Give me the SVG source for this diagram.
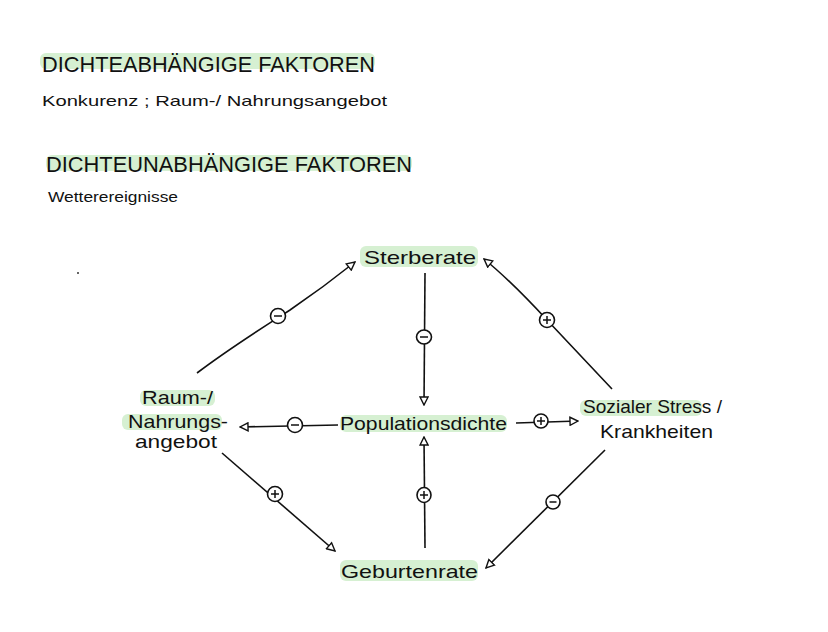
<svg xmlns="http://www.w3.org/2000/svg" width="828" height="632" viewBox="0 0 828 632">
<style>
.t{font-family:"Liberation Sans","DejaVu Sans",sans-serif;fill:#111}
.h{font-size:22px}
.s{font-size:15px}
.n{font-size:19px}
.hl{fill:#d6f0d2}
.c{fill:none;stroke:#111;stroke-width:1.6}
.sg{fill:#fff;stroke:#111;stroke-width:1.6}
.sy{stroke:#111;stroke-width:1.5}
</style>
<defs>
<marker id="a" viewBox="0 0 10 10" refX="9" refY="5" markerWidth="10" markerHeight="10" markerUnits="userSpaceOnUse" orient="auto">
<path d="M1,1 L9,5 L1,9 Z" fill="#fff" stroke="#111" stroke-width="1.4"/>
</marker>
</defs>
<rect width="828" height="632" fill="#fff"/>
<g id="headings">
<rect class="hl" x="40" y="53" width="335" height="16" rx="6"/>
<text class="t h" x="42" y="72" textLength="333" lengthAdjust="spacingAndGlyphs">DICHTEABHÄNGIGE FAKTOREN</text>
<text class="t s" x="42" y="106" textLength="345" lengthAdjust="spacingAndGlyphs">Konkurenz ; Raum-/ Nahrungsangebot</text>
<rect class="hl" x="46" y="155" width="366" height="16" rx="6"/>
<text class="t h" x="46" y="172" textLength="366" lengthAdjust="spacingAndGlyphs">DICHTEUNABHÄNGIGE FAKTOREN</text>
<text class="t s" x="48" y="202" textLength="130" lengthAdjust="spacingAndGlyphs">Wetterereignisse</text>
<circle cx="78" cy="273" r="1" fill="#333"/>
</g>
<g id="connectors">
<path class="c" d="M197,373 C230,348 265,326 290,310 C312,295 335,278 355,262" marker-end="url(#a)"/>
<circle class="sg" cx="278" cy="316" r="7.5"/><line class="sy" x1="274" y1="316" x2="282" y2="316"/>
<path class="c" d="M425,273 L424,405" marker-end="url(#a)"/>
<ellipse class="sg" cx="424" cy="337" rx="7.5" ry="7"/><line class="sy" x1="420" y1="337" x2="428" y2="337"/>
<path class="c" d="M612,389 L547,320 Q510,280 484,259" marker-end="url(#a)"/>
<circle class="sg" cx="547" cy="320" r="7.5"/><line class="sy" x1="543" y1="320" x2="551" y2="320"/><line class="sy" x1="547" y1="316" x2="547" y2="324"/>
<path class="c" d="M338,425 L240,427" marker-end="url(#a)"/>
<circle class="sg" cx="295" cy="425" r="7.5"/><line class="sy" x1="291" y1="425" x2="299" y2="425"/>
<path class="c" d="M516,423 L578,421" marker-end="url(#a)"/>
<circle class="sg" cx="541" cy="421" r="7"/><line class="sy" x1="537" y1="421" x2="545" y2="421"/><line class="sy" x1="541" y1="417" x2="541" y2="425"/>
<path class="c" d="M222,453 L335,551" marker-end="url(#a)"/>
<circle class="sg" cx="275" cy="494" r="7.5"/><line class="sy" x1="271" y1="494" x2="279" y2="494"/><line class="sy" x1="275" y1="490" x2="275" y2="498"/>
<path class="c" d="M425,548 L424,437" marker-end="url(#a)"/>
<ellipse class="sg" cx="424" cy="495" rx="7" ry="7.5"/><line class="sy" x1="420" y1="495" x2="428" y2="495"/><line class="sy" x1="424" y1="491" x2="424" y2="499"/>
<path class="c" d="M605,450 L486,568" marker-end="url(#a)"/>
<circle class="sg" cx="553" cy="502" r="7" stroke-width="1.2"/><line class="sy" x1="549.5" y1="502" x2="556.5" y2="502" stroke-width="1.2"/>
</g>
<g id="sterberate">
<rect class="hl" x="360" y="246" width="118" height="21" rx="6"/>
<text class="t n" x="364" y="264" textLength="112" lengthAdjust="spacingAndGlyphs">Sterberate</text>
</g>
<g id="raum">
<rect class="hl" x="140" y="390" width="75" height="16" rx="6"/>
<rect class="hl" x="122" y="414" width="100" height="16" rx="6"/>
<text class="t n" x="142" y="404" textLength="71" lengthAdjust="spacingAndGlyphs">Raum-/</text>
<text class="t n" x="128" y="428" textLength="100" lengthAdjust="spacingAndGlyphs">Nahrungs-</text>
<text class="t n" x="135" y="448" textLength="82" lengthAdjust="spacingAndGlyphs">angebot</text>
</g>
<g id="populationsdichte">
<rect class="hl" x="340" y="415" width="167" height="17" rx="6"/>
<text class="t n" x="340" y="430" textLength="167" lengthAdjust="spacingAndGlyphs">Populationsdichte</text>
</g>
<g id="stress">
<rect class="hl" x="580" y="400" width="122" height="16" rx="6"/>
<text class="t n" x="583" y="413" textLength="139" lengthAdjust="spacingAndGlyphs">Sozialer Stress /</text>
<text class="t n" x="600" y="438" textLength="113" lengthAdjust="spacingAndGlyphs">Krankheiten</text>
</g>
<g id="geburtenrate">
<rect class="hl" x="340" y="560" width="138" height="21" rx="6"/>
<text class="t n" x="341" y="578" textLength="137" lengthAdjust="spacingAndGlyphs">Geburtenrate</text>
</g>
</svg>
